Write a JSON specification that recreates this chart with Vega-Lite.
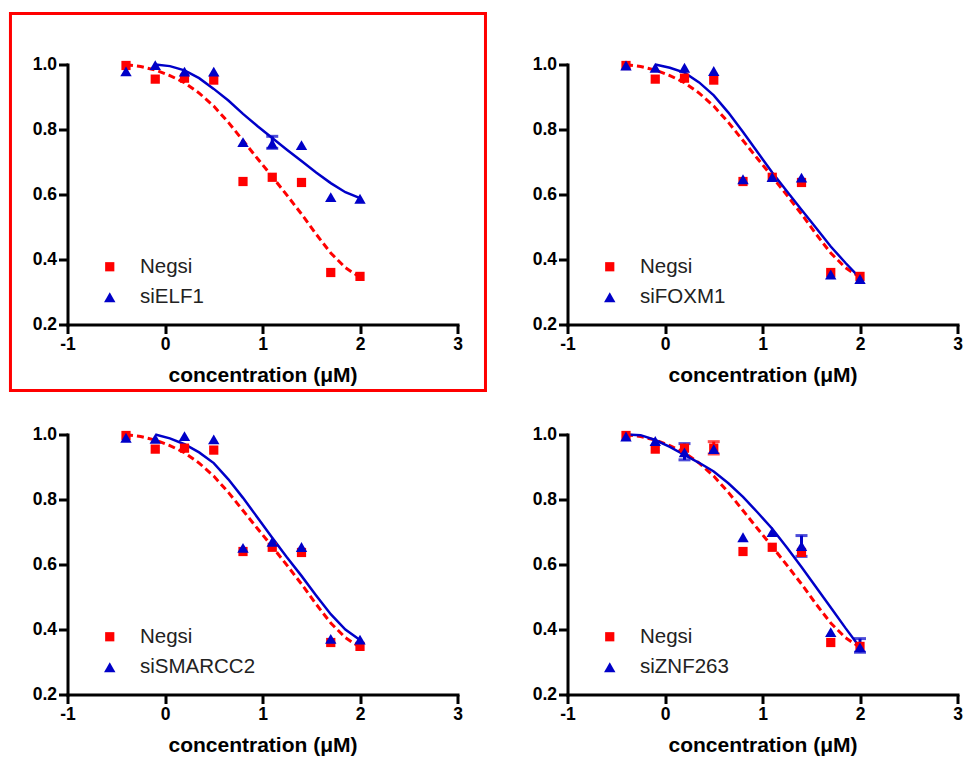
{
  "$schema": "https://vega.github.io/schema/vega-lite/v6.json",
  "background": "white",
  "padding": {"left": 8.5, "top": 11.5, "right": 0, "bottom": 0},
  "autosize": {"type": "pad"},
  "datasets": {
    "frame": [{"x1": -1.585, "x2": 3.287, "y1": -0.003, "y2": 1.157}],
    "negfit": [
      {"x": -0.4, "y": 0.999}, {"x": -0.25, "y": 0.994}, {"x": -0.1, "y": 0.983}, {"x": 0.05, "y": 0.966},
      {"x": 0.2, "y": 0.944}, {"x": 0.35, "y": 0.912}, {"x": 0.5, "y": 0.872}, {"x": 0.65, "y": 0.822},
      {"x": 0.8, "y": 0.766}, {"x": 0.95, "y": 0.71}, {"x": 1.1, "y": 0.655}, {"x": 1.25, "y": 0.598},
      {"x": 1.4, "y": 0.54}, {"x": 1.55, "y": 0.478}, {"x": 1.7, "y": 0.42}, {"x": 1.85, "y": 0.375}, {"x": 2.0, "y": 0.345}
    ],
    "fits": [
      {"panel": "ELF1", "x": -0.1, "y": 1.0}, {"panel": "ELF1", "x": 0.05, "y": 0.995}, {"panel": "ELF1", "x": 0.2, "y": 0.982},
      {"panel": "ELF1", "x": 0.35, "y": 0.958}, {"panel": "ELF1", "x": 0.5, "y": 0.925}, {"panel": "ELF1", "x": 0.65, "y": 0.889},
      {"panel": "ELF1", "x": 0.8, "y": 0.848}, {"panel": "ELF1", "x": 0.95, "y": 0.81}, {"panel": "ELF1", "x": 1.1, "y": 0.774},
      {"panel": "ELF1", "x": 1.25, "y": 0.738}, {"panel": "ELF1", "x": 1.4, "y": 0.703}, {"panel": "ELF1", "x": 1.55, "y": 0.668},
      {"panel": "ELF1", "x": 1.7, "y": 0.635}, {"panel": "ELF1", "x": 1.85, "y": 0.607}, {"panel": "ELF1", "x": 2.0, "y": 0.589},

      {"panel": "FOXM1", "x": -0.1, "y": 1.0}, {"panel": "FOXM1", "x": 0.05, "y": 0.99}, {"panel": "FOXM1", "x": 0.2, "y": 0.975},
      {"panel": "FOXM1", "x": 0.35, "y": 0.945}, {"panel": "FOXM1", "x": 0.5, "y": 0.905}, {"panel": "FOXM1", "x": 0.65, "y": 0.852},
      {"panel": "FOXM1", "x": 0.8, "y": 0.792}, {"panel": "FOXM1", "x": 0.95, "y": 0.73}, {"panel": "FOXM1", "x": 1.1, "y": 0.668},
      {"panel": "FOXM1", "x": 1.25, "y": 0.61}, {"panel": "FOXM1", "x": 1.4, "y": 0.553}, {"panel": "FOXM1", "x": 1.55, "y": 0.497},
      {"panel": "FOXM1", "x": 1.7, "y": 0.44}, {"panel": "FOXM1", "x": 1.85, "y": 0.39}, {"panel": "FOXM1", "x": 2.0, "y": 0.343},

      {"panel": "SMARCC2", "x": -0.1, "y": 1.0}, {"panel": "SMARCC2", "x": 0.05, "y": 0.988}, {"panel": "SMARCC2", "x": 0.2, "y": 0.97},
      {"panel": "SMARCC2", "x": 0.35, "y": 0.945}, {"panel": "SMARCC2", "x": 0.5, "y": 0.912}, {"panel": "SMARCC2", "x": 0.65, "y": 0.862},
      {"panel": "SMARCC2", "x": 0.8, "y": 0.805}, {"panel": "SMARCC2", "x": 0.95, "y": 0.744}, {"panel": "SMARCC2", "x": 1.1, "y": 0.682},
      {"panel": "SMARCC2", "x": 1.25, "y": 0.622}, {"panel": "SMARCC2", "x": 1.4, "y": 0.565}, {"panel": "SMARCC2", "x": 1.55, "y": 0.505},
      {"panel": "SMARCC2", "x": 1.7, "y": 0.447}, {"panel": "SMARCC2", "x": 1.85, "y": 0.4}, {"panel": "SMARCC2", "x": 2.0, "y": 0.368},

      {"panel": "ZNF263", "x": -0.4, "y": 1.0}, {"panel": "ZNF263", "x": -0.25, "y": 0.998}, {"panel": "ZNF263", "x": -0.1, "y": 0.983},
      {"panel": "ZNF263", "x": 0.05, "y": 0.962}, {"panel": "ZNF263", "x": 0.2, "y": 0.937}, {"panel": "ZNF263", "x": 0.35, "y": 0.913},
      {"panel": "ZNF263", "x": 0.5, "y": 0.886}, {"panel": "ZNF263", "x": 0.65, "y": 0.85}, {"panel": "ZNF263", "x": 0.8, "y": 0.808},
      {"panel": "ZNF263", "x": 0.95, "y": 0.76}, {"panel": "ZNF263", "x": 1.1, "y": 0.71}, {"panel": "ZNF263", "x": 1.25, "y": 0.652},
      {"panel": "ZNF263", "x": 1.4, "y": 0.592}, {"panel": "ZNF263", "x": 1.55, "y": 0.53}, {"panel": "ZNF263", "x": 1.7, "y": 0.468},
      {"panel": "ZNF263", "x": 1.85, "y": 0.405}, {"panel": "ZNF263", "x": 2.0, "y": 0.345}
    ],
    "points": [
      {"panel": "ELF1", "series": "Negsi", "x": -0.4, "y": 0.997}, {"panel": "ELF1", "series": "Negsi", "x": -0.1, "y": 0.955},
      {"panel": "ELF1", "series": "Negsi", "x": 0.2, "y": 0.958}, {"panel": "ELF1", "series": "Negsi", "x": 0.5, "y": 0.952},
      {"panel": "ELF1", "series": "Negsi", "x": 0.8, "y": 0.64}, {"panel": "ELF1", "series": "Negsi", "x": 1.1, "y": 0.653},
      {"panel": "ELF1", "series": "Negsi", "x": 1.4, "y": 0.637}, {"panel": "ELF1", "series": "Negsi", "x": 1.7, "y": 0.36},
      {"panel": "ELF1", "series": "Negsi", "x": 2.0, "y": 0.348},
      {"panel": "ELF1", "series": "siELF1", "x": -0.4, "y": 0.979}, {"panel": "ELF1", "series": "siELF1", "x": -0.1, "y": 0.998},
      {"panel": "ELF1", "series": "siELF1", "x": 0.2, "y": 0.978}, {"panel": "ELF1", "series": "siELF1", "x": 0.5, "y": 0.978},
      {"panel": "ELF1", "series": "siELF1", "x": 0.8, "y": 0.761}, {"panel": "ELF1", "series": "siELF1", "x": 1.1, "y": 0.756, "lo": 0.742, "hi": 0.779},
      {"panel": "ELF1", "series": "siELF1", "x": 1.4, "y": 0.752}, {"panel": "ELF1", "series": "siELF1", "x": 1.7, "y": 0.592},
      {"panel": "ELF1", "series": "siELF1", "x": 2.0, "y": 0.587},

      {"panel": "FOXM1", "series": "Negsi", "x": -0.4, "y": 0.997}, {"panel": "FOXM1", "series": "Negsi", "x": -0.1, "y": 0.955},
      {"panel": "FOXM1", "series": "Negsi", "x": 0.2, "y": 0.958}, {"panel": "FOXM1", "series": "Negsi", "x": 0.5, "y": 0.952},
      {"panel": "FOXM1", "series": "Negsi", "x": 0.8, "y": 0.64}, {"panel": "FOXM1", "series": "Negsi", "x": 1.1, "y": 0.653},
      {"panel": "FOXM1", "series": "Negsi", "x": 1.4, "y": 0.637}, {"panel": "FOXM1", "series": "Negsi", "x": 1.7, "y": 0.36},
      {"panel": "FOXM1", "series": "Negsi", "x": 2.0, "y": 0.348},
      {"panel": "FOXM1", "series": "siFOXM1", "x": -0.4, "y": 0.997}, {"panel": "FOXM1", "series": "siFOXM1", "x": -0.1, "y": 0.99},
      {"panel": "FOXM1", "series": "siFOXM1", "x": 0.2, "y": 0.99}, {"panel": "FOXM1", "series": "siFOXM1", "x": 0.5, "y": 0.98},
      {"panel": "FOXM1", "series": "siFOXM1", "x": 0.8, "y": 0.647}, {"panel": "FOXM1", "series": "siFOXM1", "x": 1.1, "y": 0.654},
      {"panel": "FOXM1", "series": "siFOXM1", "x": 1.4, "y": 0.652}, {"panel": "FOXM1", "series": "siFOXM1", "x": 1.7, "y": 0.354},
      {"panel": "FOXM1", "series": "siFOXM1", "x": 2.0, "y": 0.34},

      {"panel": "SMARCC2", "series": "Negsi", "x": -0.4, "y": 0.997}, {"panel": "SMARCC2", "series": "Negsi", "x": -0.1, "y": 0.955},
      {"panel": "SMARCC2", "series": "Negsi", "x": 0.2, "y": 0.958}, {"panel": "SMARCC2", "series": "Negsi", "x": 0.5, "y": 0.952},
      {"panel": "SMARCC2", "series": "Negsi", "x": 0.8, "y": 0.64}, {"panel": "SMARCC2", "series": "Negsi", "x": 1.1, "y": 0.653},
      {"panel": "SMARCC2", "series": "Negsi", "x": 1.4, "y": 0.637}, {"panel": "SMARCC2", "series": "Negsi", "x": 1.7, "y": 0.36},
      {"panel": "SMARCC2", "series": "Negsi", "x": 2.0, "y": 0.348},
      {"panel": "SMARCC2", "series": "siSMARCC2", "x": -0.4, "y": 0.99}, {"panel": "SMARCC2", "series": "siSMARCC2", "x": -0.1, "y": 0.987},
      {"panel": "SMARCC2", "series": "siSMARCC2", "x": 0.2, "y": 0.995}, {"panel": "SMARCC2", "series": "siSMARCC2", "x": 0.5, "y": 0.985},
      {"panel": "SMARCC2", "series": "siSMARCC2", "x": 0.8, "y": 0.651}, {"panel": "SMARCC2", "series": "siSMARCC2", "x": 1.1, "y": 0.67},
      {"panel": "SMARCC2", "series": "siSMARCC2", "x": 1.4, "y": 0.654}, {"panel": "SMARCC2", "series": "siSMARCC2", "x": 1.7, "y": 0.371},
      {"panel": "SMARCC2", "series": "siSMARCC2", "x": 2.0, "y": 0.369},

      {"panel": "ZNF263", "series": "Negsi", "x": -0.4, "y": 0.997}, {"panel": "ZNF263", "series": "Negsi", "x": -0.1, "y": 0.955},
      {"panel": "ZNF263", "series": "Negsi", "x": 0.2, "y": 0.958}, {"panel": "ZNF263", "series": "Negsi", "x": 0.5, "y": 0.958, "lo": 0.94, "hi": 0.978},
      {"panel": "ZNF263", "series": "Negsi", "x": 0.8, "y": 0.64}, {"panel": "ZNF263", "series": "Negsi", "x": 1.1, "y": 0.653},
      {"panel": "ZNF263", "series": "Negsi", "x": 1.4, "y": 0.637}, {"panel": "ZNF263", "series": "Negsi", "x": 1.7, "y": 0.36},
      {"panel": "ZNF263", "series": "Negsi", "x": 2.0, "y": 0.348},
      {"panel": "ZNF263", "series": "siZNF263", "x": -0.4, "y": 0.994}, {"panel": "ZNF263", "series": "siZNF263", "x": -0.1, "y": 0.98},
      {"panel": "ZNF263", "series": "siZNF263", "x": 0.2, "y": 0.945, "lo": 0.922, "hi": 0.972}, {"panel": "ZNF263", "series": "siZNF263", "x": 0.5, "y": 0.955},
      {"panel": "ZNF263", "series": "siZNF263", "x": 0.8, "y": 0.684}, {"panel": "ZNF263", "series": "siZNF263", "x": 1.1, "y": 0.7},
      {"panel": "ZNF263", "series": "siZNF263", "x": 1.4, "y": 0.657, "lo": 0.625, "hi": 0.689}, {"panel": "ZNF263", "series": "siZNF263", "x": 1.7, "y": 0.392},
      {"panel": "ZNF263", "series": "siZNF263", "x": 2.0, "y": 0.345, "lo": 0.33, "hi": 0.372}
    ]
  },
  "columns": 2,
  "spacing": {"row": 110, "column": 110},
  "bounds": "flush",
  "resolve": {"scale": {"color": "independent", "shape": "independent", "size": "independent"}, "legend": {"color": "independent", "shape": "independent", "size": "independent"}},
  "concat": [
    {
      "width": 390, "height": 260,
      "layer": [
        {"data": {"name": "frame"}, "mark": {"type": "rect", "fill": null, "stroke": "#ff0000", "strokeWidth": 3, "clip": false},
         "encoding": {"x": {"field": "x1", "type": "quantitative", "title": "concentration (μM)", "scale": {"domain": [-1, 3]}, "axis": {"values": [-1, 0, 1, 2, 3], "labelExpr": "'' + datum.value", "labelFlush": false}},
                      "x2": {"field": "x2"},
                      "y": {"field": "y1", "type": "quantitative", "title": null, "scale": {"domain": [0.2, 1]}, "axis": {"values": [0.2, 0.4, 0.6, 0.8, 1.0], "format": ".1f", "labelFlush": false}},
                      "y2": {"field": "y2"}}},
        {"data": {"name": "negfit"}, "mark": {"type": "line", "color": "#ff0000", "strokeWidth": 3, "strokeDash": [7, 4]},
         "encoding": {"x": {"field": "x", "type": "quantitative", "title": "concentration (μM)"}, "y": {"field": "y", "type": "quantitative", "title": null}}},
        {"data": {"name": "fits"}, "transform": [{"filter": "datum.panel === 'ELF1'"}], "mark": {"type": "line", "color": "#0000c8", "strokeWidth": 2.5},
         "encoding": {"x": {"field": "x", "type": "quantitative", "title": "concentration (μM)"}, "y": {"field": "y", "type": "quantitative", "title": null}}},
        {"data": {"name": "points"}, "transform": [{"filter": "datum.panel === 'ELF1' && isValid(datum.hi) && datum.series !== 'Negsi'"}],
         "mark": {"type": "errorbar", "ticks": {"size": 12, "thickness": 3}, "rule": {"strokeWidth": 3}, "color": "#0000c8"},
         "encoding": {"x": {"field": "x", "type": "quantitative", "title": "concentration (μM)"}, "y": {"field": "lo", "type": "quantitative", "title": null}, "y2": {"field": "hi"}}},
        {"data": {"name": "points"}, "transform": [{"filter": "datum.panel === 'ELF1'"}],
         "mark": {"type": "point", "filled": true, "opacity": 1, "strokeWidth": 0},
         "encoding": {"x": {"field": "x", "type": "quantitative", "title": "concentration (μM)"}, "y": {"field": "y", "type": "quantitative", "title": null},
           "color": {"field": "series", "type": "nominal", "scale": {"domain": ["Negsi", "siELF1"], "range": ["#ff0000", "#0000c8"]}, "legend": {"orient": "none", "legendX": 32, "legendY": 192, "title": null}},
           "shape": {"field": "series", "type": "nominal", "scale": {"domain": ["Negsi", "siELF1"], "range": ["square", "triangle-up"]}},
           "size": {"field": "series", "type": "nominal", "scale": {"domain": ["Negsi", "siELF1"], "range": [85, 130]}}}}
      ]
    },
    {
      "width": 390, "height": 260,
      "layer": [
        {"data": {"name": "negfit"}, "mark": {"type": "line", "color": "#ff0000", "strokeWidth": 3, "strokeDash": [7, 4]},
         "encoding": {"x": {"field": "x", "type": "quantitative", "title": "concentration (μM)", "scale": {"domain": [-1, 3]}, "axis": {"values": [-1, 0, 1, 2, 3], "labelExpr": "'' + datum.value", "labelFlush": false}},
                      "y": {"field": "y", "type": "quantitative", "title": null, "scale": {"domain": [0.2, 1]}, "axis": {"values": [0.2, 0.4, 0.6, 0.8, 1.0], "format": ".1f", "labelFlush": false}}}},
        {"data": {"name": "fits"}, "transform": [{"filter": "datum.panel === 'FOXM1'"}], "mark": {"type": "line", "color": "#0000c8", "strokeWidth": 2.5},
         "encoding": {"x": {"field": "x", "type": "quantitative", "title": "concentration (μM)"}, "y": {"field": "y", "type": "quantitative", "title": null}}},
        {"data": {"name": "points"}, "transform": [{"filter": "datum.panel === 'FOXM1'"}],
         "mark": {"type": "point", "filled": true, "opacity": 1, "strokeWidth": 0},
         "encoding": {"x": {"field": "x", "type": "quantitative", "title": "concentration (μM)"}, "y": {"field": "y", "type": "quantitative", "title": null},
           "color": {"field": "series", "type": "nominal", "scale": {"domain": ["Negsi", "siFOXM1"], "range": ["#ff0000", "#0000c8"]}, "legend": {"orient": "none", "legendX": 32, "legendY": 192, "title": null}},
           "shape": {"field": "series", "type": "nominal", "scale": {"domain": ["Negsi", "siFOXM1"], "range": ["square", "triangle-up"]}},
           "size": {"field": "series", "type": "nominal", "scale": {"domain": ["Negsi", "siFOXM1"], "range": [85, 130]}}}}
      ]
    },
    {
      "width": 390, "height": 260,
      "layer": [
        {"data": {"name": "negfit"}, "mark": {"type": "line", "color": "#ff0000", "strokeWidth": 3, "strokeDash": [7, 4]},
         "encoding": {"x": {"field": "x", "type": "quantitative", "title": "concentration (μM)", "scale": {"domain": [-1, 3]}, "axis": {"values": [-1, 0, 1, 2, 3], "labelExpr": "'' + datum.value", "labelFlush": false}},
                      "y": {"field": "y", "type": "quantitative", "title": null, "scale": {"domain": [0.2, 1]}, "axis": {"values": [0.2, 0.4, 0.6, 0.8, 1.0], "format": ".1f", "labelFlush": false}}}},
        {"data": {"name": "fits"}, "transform": [{"filter": "datum.panel === 'SMARCC2'"}], "mark": {"type": "line", "color": "#0000c8", "strokeWidth": 2.5},
         "encoding": {"x": {"field": "x", "type": "quantitative", "title": "concentration (μM)"}, "y": {"field": "y", "type": "quantitative", "title": null}}},
        {"data": {"name": "points"}, "transform": [{"filter": "datum.panel === 'SMARCC2'"}],
         "mark": {"type": "point", "filled": true, "opacity": 1, "strokeWidth": 0},
         "encoding": {"x": {"field": "x", "type": "quantitative", "title": "concentration (μM)"}, "y": {"field": "y", "type": "quantitative", "title": null},
           "color": {"field": "series", "type": "nominal", "scale": {"domain": ["Negsi", "siSMARCC2"], "range": ["#ff0000", "#0000c8"]}, "legend": {"orient": "none", "legendX": 32, "legendY": 192, "title": null}},
           "shape": {"field": "series", "type": "nominal", "scale": {"domain": ["Negsi", "siSMARCC2"], "range": ["square", "triangle-up"]}},
           "size": {"field": "series", "type": "nominal", "scale": {"domain": ["Negsi", "siSMARCC2"], "range": [85, 130]}}}}
      ]
    },
    {
      "width": 390, "height": 260,
      "layer": [
        {"data": {"name": "negfit"}, "mark": {"type": "line", "color": "#ff0000", "strokeWidth": 3, "strokeDash": [7, 4]},
         "encoding": {"x": {"field": "x", "type": "quantitative", "title": "concentration (μM)", "scale": {"domain": [-1, 3]}, "axis": {"values": [-1, 0, 1, 2, 3], "labelExpr": "'' + datum.value", "labelFlush": false}},
                      "y": {"field": "y", "type": "quantitative", "title": null, "scale": {"domain": [0.2, 1]}, "axis": {"values": [0.2, 0.4, 0.6, 0.8, 1.0], "format": ".1f", "labelFlush": false}}}},
        {"data": {"name": "fits"}, "transform": [{"filter": "datum.panel === 'ZNF263'"}], "mark": {"type": "line", "color": "#0000c8", "strokeWidth": 2.5},
         "encoding": {"x": {"field": "x", "type": "quantitative", "title": "concentration (μM)"}, "y": {"field": "y", "type": "quantitative", "title": null}}},
        {"data": {"name": "points"}, "transform": [{"filter": "datum.panel === 'ZNF263' && isValid(datum.hi) && datum.series === 'Negsi'"}],
         "mark": {"type": "errorbar", "ticks": {"size": 12, "thickness": 3}, "rule": {"strokeWidth": 3}, "color": "#ff0000"},
         "encoding": {"x": {"field": "x", "type": "quantitative", "title": "concentration (μM)"}, "y": {"field": "lo", "type": "quantitative", "title": null}, "y2": {"field": "hi"}}},
        {"data": {"name": "points"}, "transform": [{"filter": "datum.panel === 'ZNF263' && isValid(datum.hi) && datum.series !== 'Negsi'"}],
         "mark": {"type": "errorbar", "ticks": {"size": 12, "thickness": 3}, "rule": {"strokeWidth": 3}, "color": "#0000c8"},
         "encoding": {"x": {"field": "x", "type": "quantitative", "title": "concentration (μM)"}, "y": {"field": "lo", "type": "quantitative", "title": null}, "y2": {"field": "hi"}}},
        {"data": {"name": "points"}, "transform": [{"filter": "datum.panel === 'ZNF263'"}],
         "mark": {"type": "point", "filled": true, "opacity": 1, "strokeWidth": 0},
         "encoding": {"x": {"field": "x", "type": "quantitative", "title": "concentration (μM)"}, "y": {"field": "y", "type": "quantitative", "title": null},
           "color": {"field": "series", "type": "nominal", "scale": {"domain": ["Negsi", "siZNF263"], "range": ["#ff0000", "#0000c8"]}, "legend": {"orient": "none", "legendX": 32, "legendY": 192, "title": null}},
           "shape": {"field": "series", "type": "nominal", "scale": {"domain": ["Negsi", "siZNF263"], "range": ["square", "triangle-up"]}},
           "size": {"field": "series", "type": "nominal", "scale": {"domain": ["Negsi", "siZNF263"], "range": [85, 130]}}}}
      ]
    }
  ],
  "config": {
    "view": {"stroke": null},
    "axis": {
      "grid": false, "domainColor": "#000000", "domainWidth": 3, "domainCap": "square",
      "tickColor": "#000000", "tickWidth": 3, "tickSize": 9,
      "labelFont": "Liberation Sans", "labelFontWeight": "bold", "labelFontSize": 17.5, "labelColor": "#000000", "labelPadding": 2,
      "titleFont": "Liberation Sans", "titleFontWeight": "bold", "titleFontSize": 21, "titleColor": "#000000", "titlePadding": 11
    },
    "legend": {
      "labelFont": "Liberation Sans", "labelFontSize": 20.5, "labelColor": "#222222", "padding": 0, "rowPadding": 9.5,
      "labelOffset": 20, "symbolStrokeWidth": 0
    }
  }
}
